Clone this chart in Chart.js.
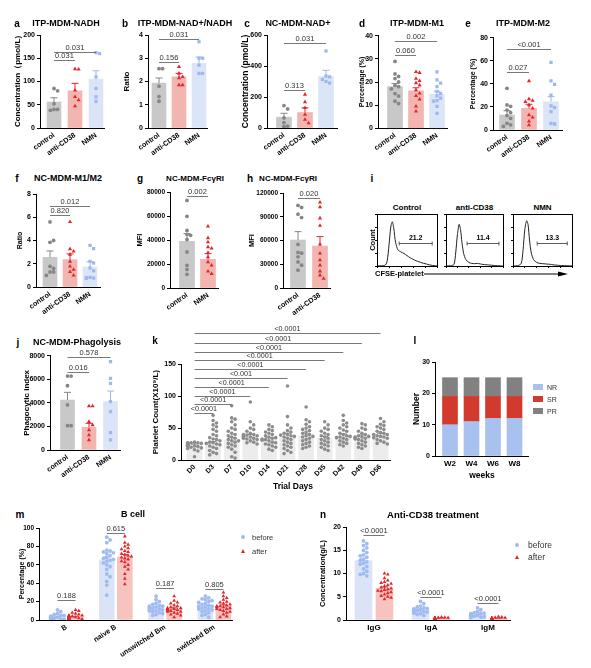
<!DOCTYPE html>
<html>
<head>
<meta charset="utf-8">
<title>Figure</title>
<script src="https://cdn.jsdelivr.net/npm/chart.js@4.4.1/dist/chart.umd.min.js"></script>
<style>
  body { margin: 0; width: 591px; height: 668px; position: relative; overflow: hidden; background: #fff; font-family: "Liberation Sans", Arial, sans-serif; color: #000; }
  canvas { position: absolute; }
  .lbl { position: absolute; transform: translate(-50%, -50%); white-space: nowrap; font-weight: bold; }
  .leg { position: absolute; transform: translate(0, -50%); white-space: nowrap; color: #333; }
</style>
</head>
<body>
<script>
const CATS3 = ["control", "anti-CD38", "NMN"];

// a  ITP-MDM-NADH
const nadhMean = [56, 80, 105];
const nadhSem = [9, 16, 18];
const nadhPts = [[85, 80, 52, 40, 40, 38], [127, 126, 81, 67, 60, 47], [162, 160, 110, 85, 67, 57]];

// b  ITP-MDM-NAD+/NADH
const ratioMean = [1.93, 2.2, 2.78];
const ratioSem = [0.22, 0.15, 0.27];
const ratioPts = [[2.55, 2.55, 1.8, 1.35, 1.15], [2.63, 2.35, 2.2, 2.15, 1.85, 1.85], [3.71, 3.0, 3.0, 2.7, 2.35, 2.35]];

// c  NC-MDM-NAD+
const nadMean = [70, 100, 332];
const nadSem = [25, 30, 40];
const nadPts = [[145, 123, 65, 35, 12, 10], [216, 168, 130, 86, 54, 32], [497, 335, 330, 313, 300, 290]];

// d  ITP-MDM-M1
const m1Mean = [18, 16.2, 14.7];
const m1Sem = [1.3, 1.3, 1.3];
const m1Pts = [
  [28.9, 23.5, 22.4, 21.5, 20, 18.5, 18, 17, 15, 13.9, 11.7, 10.7],
  [24.4, 24, 21.5, 20.5, 19.6, 18.6, 16.5, 15.1, 14, 12.5, 9.5, 7.3],
  [24.4, 20.9, 19.5, 18, 16, 15, 14, 13, 12, 11.7, 9.5, 6.5]
];

// e  ITP-MDM-M2
const m2Mean = [13, 18.8, 24.5];
const m2Sem = [3.8, 3.5, 4.4];
const m2Pts = [
  [36.1, 21.7, 20.5, 17.3, 15, 12.5, 10.1, 5.8, 4.5, 3.2],
  [42.5, 26.9, 25.5, 24.5, 21.7, 18.8, 13, 11, 7.5, 4.3],
  [58.7, 42.5, 39.6, 30.3, 21, 19.5, 15.9, 5.8, 5.2]
];

// f  NC-MDM-M1/M2
const m1m2Mean = [2.55, 2.35, 1.72];
const m1m2Sem = [0.55, 0.5, 0.45];
const m1m2Pts = [
  [5.6, 3.84, 4.0, 1.78, 1.6, 1.29, 1.29, 1.0],
  [5.6, 3.27, 3.07, 2.8, 2.2, 1.78, 1.5, 1.3, 1.0],
  [3.58, 3.3, 2.2, 2.06, 1.63, 1.4, 0.83, 0.77, 0.75, 0.8]
];

// g  NC-MDM-FcγRI (NMN)
const fcgCats = ["control", "NMN"];
const fcgMean = [38900, 23900];
const fcgSem = [6400, 4700];
const fcgPts = [
  [73000, 59700, 48000, 44700, 43900, 40500, 30000, 18900, 15500, 11400],
  [51400, 41700, 38300, 34200, 33000, 29400, 25800, 21700, 18900, 13900, 11900]
];

// h  NC-MDM-FcγRI (anti-CD38)
const fchCats = ["control", "anti-CD38"];
const fchMean = [60600, 53000];
const fchSem = [10600, 11900];
const fchPts = [
  [104300, 101800, 93300, 89000, 55100, 45000, 44000, 39400, 33000, 28800, 22500],
  [108100, 102200, 88200, 78900, 55100, 43700, 35200, 28800, 21200, 16100, 11900]
];

// i  CFSE-platelet histograms
const HX = [0, 0.08, 0.14, 0.17, 0.2, 0.23, 0.255, 0.28, 0.31, 0.35, 0.4, 0.45, 0.5, 0.55, 0.6, 0.65, 0.7, 0.75, 0.8, 0.85, 0.9, 1];
const histCtrl = [0, 0.005, 0.02, 0.1, 0.4, 0.75, 0.85, 0.72, 0.45, 0.31, 0.27, 0.24, 0.2, 0.16, 0.13, 0.1, 0.08, 0.06, 0.045, 0.03, 0.015, 0];
const histCd38 = [0, 0.005, 0.03, 0.25, 0.6, 0.8, 0.7, 0.45, 0.24, 0.12, 0.07, 0.05, 0.045, 0.05, 0.04, 0.03, 0.025, 0.02, 0.015, 0.01, 0.005, 0];
const histNmn = [0, 0.005, 0.05, 0.3, 0.7, 0.87, 0.8, 0.5, 0.25, 0.12, 0.07, 0.05, 0.045, 0.04, 0.035, 0.03, 0.02, 0.015, 0.01, 0.008, 0.005, 0];
const gates = [[0.37, 0.92, 0.44], [0.37, 0.93, 0.45], [0.41, 0.92, 0.45]];
const gateLabels = ["21.2", "11.4", "13.3"];
const histTitles = ["Control", "anti-CD38", "NMN"];

// j  NC-MDM-Phagolysis
const phagoMean = [4240, 1920, 4100];
const phagoSem = [650, 340, 900];
const phagoPts = [
  [6270, 6270, 5450, 3820, 2060, 2060],
  [3730, 3730, 2400, 2120, 1700, 1270, 850],
  [7490, 6080, 5650, 4100, 3250, 1470, 850]
];

// k  platelet count by trial day
const days = ["D0", "D3", "D7", "D10", "D14", "D21", "D28", "D35", "D42", "D49", "D56"];
const pltMean = [24, 26, 31, 37, 33, 38, 38, 34, 38, 37, 40];
const pltSem = [1, 3, 4, 3, 2, 4, 3, 3, 3, 2, 2];
const pltPts = [
  [28, 27, 27, 26, 26, 25, 25, 25, 24, 24, 24, 23, 23, 22, 22, 21, 20, 19, 18, 16, 14, 5, 26, 27, 23],
  [70, 62, 58, 55, 52, 48, 45, 40, 38, 35, 33, 32, 30, 28, 27, 25, 24, 22, 20, 18, 15, 12, 10, 8, 26],
  [85, 66, 64, 60, 55, 50, 48, 45, 42, 40, 36, 34, 32, 30, 28, 26, 24, 22, 20, 17, 12, 5, 3, 38, 30],
  [91, 60, 55, 50, 48, 45, 42, 40, 39, 38, 37, 36, 35, 34, 33, 32, 30, 28, 27, 25, 38, 36, 40, 34],
  [55, 52, 48, 46, 44, 42, 40, 38, 36, 35, 34, 32, 30, 28, 27, 25, 24, 22, 20, 17, 15, 33, 31],
  [116, 68, 55, 50, 46, 44, 42, 40, 38, 36, 34, 32, 30, 28, 26, 24, 22, 20, 18, 15, 12, 10, 37, 39],
  [83, 63, 60, 56, 52, 50, 48, 46, 44, 42, 40, 38, 36, 34, 32, 30, 28, 26, 24, 22, 20, 18, 37],
  [60, 55, 50, 48, 45, 42, 40, 38, 36, 34, 32, 30, 28, 26, 24, 22, 20, 17, 15],
  [70, 62, 58, 55, 52, 50, 47, 45, 42, 40, 38, 36, 34, 32, 30, 28, 26, 24, 22, 37, 35],
  [57, 55, 50, 48, 45, 42, 40, 38, 37, 36, 35, 34, 33, 32, 30, 28, 26, 24, 22, 20, 18, 36],
  [65, 60, 56, 54, 52, 50, 48, 45, 43, 42, 40, 38, 37, 36, 35, 34, 32, 30, 28, 26, 25, 40]
];
const pltSigY = [73, 87, 101, 114, 128, 142, 157, 170, 184, 199];
const pltSig = ["<0.0001", "<0.0001", "<0.0001", "<0.0001", "<0.001", "<0.0001", "<0.0001", "<0.0001", "<0.0001", "<0.0001"];

// l  response by week
const weeks = ["W2", "W4", "W6", "W8"];
const nrCount = [10, 11, 12, 12];
const srCount = [9, 8, 7, 7];
const prCount = [6, 6, 6, 6];

// m  B cell
const bCats = ["B", "naive B", "unswitched Bm", "switched Bm"];
const bBeforeMean = [3, 65.5, 13.5, 15];
const bAfterMean = [3.5, 68.5, 12, 15];
const bBeforeSem = [0.6, 3, 1.1, 1.4];
const bAfterSem = [0.6, 2.8, 1.1, 1.4];
const bBeforePts = [
  [11, 9, 7, 6, 5, 5, 4, 4, 3, 3, 3, 2, 2, 2, 2, 1.5, 1, 1, 1, 0.5, 0.5, 3, 2.5],
  [90, 87, 84, 76, 75, 74, 73, 72, 70, 68, 67, 65, 64, 62, 60, 58, 55, 50, 47, 42, 38, 27, 66],
  [26, 22, 20, 18, 17, 16, 15, 14, 14, 13, 13, 12, 12, 11, 11, 10, 10, 9, 8, 7, 6, 5, 15],
  [26, 24, 23, 22, 21, 20, 18, 17, 16, 15, 15, 14, 13, 12, 12, 11, 10, 9, 8, 6, 5, 3, 19]
];
const bAfterPts = [
  [11, 10, 8, 7, 6, 5, 5, 4, 4, 4, 3, 3, 3, 2, 2, 2, 1.5, 1, 1, 1, 0.5, 3.5, 4.5],
  [91, 84, 82, 80, 78, 77, 75, 74, 72, 71, 70, 68, 67, 66, 64, 63, 60, 58, 55, 50, 45, 39, 69],
  [26, 21, 19, 18, 16, 15, 14, 13, 13, 12, 12, 11, 11, 10, 10, 9, 9, 8, 7, 6, 5, 3, 12],
  [30, 26, 24, 22, 20, 19, 18, 17, 16, 15, 15, 14, 14, 13, 12, 12, 11, 10, 9, 8, 6, 4, 3]
];
const bSig = ["0.188", "0.615", "0.187", "0.805"];
const bSigY = [21.7, 94.6, 35, 33.2];

// n  Anti-CD38 treatment
const igCats = ["IgG", "IgA", "IgM"];
const igBeforeMean = [12.8, 2.2, 1.2];
const igAfterMean = [6.8, 0.4, 0.35];
const igBeforeSem = [0.5, 0.15, 0.1];
const igAfterSem = [0.3, 0.03, 0.03];
const igBeforePts = [
  [17, 16.4, 16, 15.5, 15, 14.5, 14, 13.8, 13.5, 13, 12.8, 12.5, 12.2, 12, 11.5, 11, 10.5, 10, 9.8, 9.5],
  [4, 3.5, 3, 2.8, 2.6, 2.5, 2.4, 2.3, 2.2, 2.1, 2, 2, 1.9, 1.8, 1.7, 1.6, 1.5, 1.4, 1.2, 1],
  [2.6, 2.2, 1.8, 1.6, 1.5, 1.4, 1.3, 1.3, 1.2, 1.2, 1.1, 1.1, 1, 1, 0.9, 0.9, 0.8, 0.7, 0.6, 0.5]
];
const igAfterPts = [
  [10, 9.8, 9, 8.5, 8.2, 8, 7.8, 7.5, 7.3, 7, 6.8, 6.6, 6.5, 6.3, 6.2, 6, 5.8, 5.5, 5.2, 5, 4.8, 4.5],
  [0.6, 0.55, 0.5, 0.5, 0.45, 0.45, 0.4, 0.4, 0.4, 0.35, 0.35, 0.3, 0.3, 0.3, 0.25, 0.25, 0.2, 0.2],
  [0.7, 0.6, 0.55, 0.5, 0.45, 0.4, 0.4, 0.35, 0.35, 0.3, 0.3, 0.3, 0.25, 0.25, 0.2, 0.2, 0.15]
];
const igSig = ["<0.0001", "<0.0001", "<0.0001"];
const igSigY = [18.2, 4.9, 3.6];

// ---------------------------------------------------------------
const FAM = "'Liberation Sans', Arial, sans-serif";
const GRAY = { bar: "#c8c8c8", pt: "#868686", shape: "circle", r: 1.9 };
const RED = { bar: "#f3b5b0", pt: "#e3262b", shape: "triangle", r: 2.4 };
const BLUE = { bar: "#dce5f8", pt: "#9cb8ef", shape: "rect", r: 2.3 };
const KGRAY = { bar: "#ececec", pt: "#8c8c8c", shape: "circle", r: 1.8 };
const BEFORE = { bar: "#dbe4f7", pt: "#9fbbf0", shape: "circle", r: 1.9 };
const AFTER = { bar: "#f6c3bf", pt: "#e0282c", shape: "triangle", r: 2.2 };

function font(size, weight) {
  return { family: FAM, size: size, weight: weight || "bold" };
}

function makeCanvas(left, top, w, h) {
  const cv = document.createElement("canvas");
  cv.width = Math.round(w);
  cv.height = Math.round(h);
  cv.style.left = left + "px";
  cv.style.top = top + "px";
  document.body.appendChild(cv);
  return cv;
}

function text(s, x, y, size, extra) {
  const d = document.createElement("div");
  d.className = "lbl";
  d.textContent = s;
  d.style.left = x + "px";
  d.style.top = y + "px";
  d.style.fontSize = size + "px";
  if (extra) Object.assign(d.style, extra);
  document.body.appendChild(d);
  return d;
}

// simple beeswarm so the dots of one column do not sit on top of each other
function swarm(vals, cx, sp, pxY, maxW, gap) {
  const placed = [];
  return vals.map(v => {
    const py = v * pxY;
    let off = 0;
    for (let k = 0; k < 40; k++) {
      const o = (k % 2 ? 1 : -1) * Math.ceil(k / 2) * gap;
      if (Math.abs(o) > maxW) break;
      off = o;
      if (placed.every(q => Math.hypot(q[0] - o, q[1] - py) >= gap)) break;
    }
    placed.push([off, py]);
    return { x: cx + off / sp, y: v };
  });
}

// error bars (mean + SEM) and significance brackets
function extras(p) {
  return {
    id: "extras",
    afterDatasetsDraw(chart) {
      const ctx = chart.ctx, xs = chart.scales.x, ys = chart.scales.y;
      ctx.save();
      chart.data.datasets.forEach((ds, di) => {
        if (!ds.errs) return;
        chart.getDatasetMeta(di).data.forEach((bar, i) => {
          const top = ys.getPixelForValue(ds.data[i].y + ds.errs[i]);
          ctx.strokeStyle = ds.errCol[i];
          ctx.lineWidth = 1;
          ctx.beginPath();
          ctx.moveTo(bar.x, bar.y);
          ctx.lineTo(bar.x, top);
          ctx.moveTo(bar.x - 3.5, top);
          ctx.lineTo(bar.x + 3.5, top);
          ctx.stroke();
        });
      });
      ctx.strokeStyle = "#555";
      ctx.fillStyle = "#333";
      ctx.lineWidth = 0.8;
      ctx.font = "normal " + (p.bf || 7.5) + "px " + FAM;
      ctx.textAlign = "center";
      ctx.textBaseline = "bottom";
      (p.brackets || []).forEach(([a, b, v, s]) => {
        const x1 = xs.getPixelForValue(a), x2 = xs.getPixelForValue(b), y = Math.round(ys.getPixelForValue(v)) + 0.5;
        ctx.beginPath();
        ctx.moveTo(x1, y);
        ctx.lineTo(x2, y);
        ctx.stroke();
        ctx.fillText(s, (x1 + x2) / 2, y - 1);
      });
      ctx.restore();
    }
  };
}

function baseOptions(p, xh, yw) {
  return {
    responsive: false,
    animation: false,
    devicePixelRatio: 1,
    events: [],
    layout: { padding: { top: p.t - p.top, right: p.right - p.r, left: 0, bottom: 0 } },
    plugins: { legend: { display: false }, tooltip: { enabled: false } },
    scales: {
      x: {
        type: "linear",
        offset: false,
        min: -(p.c0 - p.l) / p.sp,
        max: (p.r - p.c0) / p.sp,
        afterBuildTicks: s => { s.ticks = p.cats.map((c, i) => ({ value: i })); },
        afterFit: s => { s.height = xh; },
        grid: { display: false, drawTicks: false, offset: false },
        border: { color: "#000", width: 1 },
        ticks: {
          autoSkip: false, minRotation: p.rot || 0, maxRotation: p.rot || 0, padding: p.xpad || 3,
          color: "#000", font: font(p.xf || 7.2), callback: v => p.cats[Math.round(v)]
        }
      },
      y: {
        min: 0,
        max: p.yMax,
        stacked: !!p.stacked,
        afterFit: s => { s.width = yw; },
        grid: { drawOnChartArea: false, tickLength: 3, color: "#000", lineWidth: 1 },
        border: { color: "#000", width: 1 },
        ticks: { stepSize: p.yStep, padding: 2, color: "#000", font: font(p.tf || 7), callback: v => String(v) },
        title: { display: true, text: p.yTitle, color: "#000", font: font(p.ytf || 8), padding: 0 }
      }
    }
  };
}

function dotPanel(p) {
  const left = p.titleX - 5;
  const cv = makeCanvas(left, p.top, p.right - left, p.bottom - p.top);
  const pxY = (p.b - p.t) / p.yMax;
  const datasets = [];
  p.series.forEach(s => {
    datasets.push({
      type: "bar", order: 2, grouped: false, maxBarThickness: p.barW,
      barPercentage: 1, categoryPercentage: 1,
      data: s.x.map((x, i) => ({ x: x, y: s.mean[i] })),
      backgroundColor: s.col.map(c => c.bar),
      errs: s.sem, errCol: s.col.map(c => c.pt)
    });
    s.x.forEach((x, i) => {
      const c = s.col[i];
      datasets.push({
        type: "scatter", order: 1,
        data: swarm(s.pts[i], x, p.sp, pxY, p.spread || 6, p.gap || 3.6),
        pointStyle: c.shape, pointRadius: c.r, backgroundColor: c.pt, borderWidth: 0
      });
    });
  });
  new Chart(cv, {
    type: "bar",
    data: { datasets: datasets },
    options: baseOptions(p, p.bottom - p.b, p.l - left),
    plugins: [extras(p)]
  });
}

function stackPanel(p) {
  const left = p.titleX - 5;
  const cv = makeCanvas(left, p.top, p.right - left, p.bottom - p.top);
  const datasets = p.stacks.map(s => ({
    type: "bar", grouped: false, maxBarThickness: p.barW, barPercentage: 1, categoryPercentage: 1,
    data: s.vals.map((v, i) => ({ x: i, y: v })), backgroundColor: s.color
  }));
  new Chart(cv, {
    type: "bar",
    data: { datasets: datasets },
    options: baseOptions(p, p.bottom - p.b, p.l - left)
  });
}

function histPanel(box, ys, gate, label) {
  const cv = makeCanvas(box.l - 3, box.t - 1, box.r - box.l + 5, box.b - box.t + 4);
  new Chart(cv, {
    type: "line",
    data: { datasets: [{ data: HX.map((x, i) => ({ x: x, y: ys[i] })), borderColor: "#222", borderWidth: 1, pointRadius: 0, tension: 0.25, fill: false }] },
    options: {
      responsive: false, animation: false, devicePixelRatio: 1, events: [],
      layout: { padding: { top: 1, right: 2, left: 0, bottom: 0 } },
      plugins: { legend: { display: false }, tooltip: { enabled: false } },
      scales: {
        x: { type: "linear", min: 0, max: 1, afterFit: s => { s.height = 3; }, ticks: { display: false, stepSize: 0.2 },
             grid: { drawOnChartArea: false, tickLength: 2, color: "#000" }, border: { color: "#000" } },
        y: { min: 0, max: 1, afterFit: s => { s.width = 3; }, ticks: { display: false, stepSize: 0.25 },
             grid: { drawOnChartArea: false, tickLength: 2, color: "#000" }, border: { color: "#000" } }
      }
    },
    plugins: [{
      id: "gate",
      afterDatasetsDraw(chart) {
        const ctx = chart.ctx, a = chart.chartArea, xs = chart.scales.x, yy = chart.scales.y;
        ctx.save();
        ctx.strokeStyle = "#000";
        ctx.lineWidth = 1;
        ctx.strokeRect(Math.round(a.left) + 0.5, Math.round(a.top) + 0.5, Math.round(a.right - a.left), Math.round(a.bottom - a.top));
        const x1 = xs.getPixelForValue(gate[0]), x2 = xs.getPixelForValue(gate[1]);
        const y = Math.round(yy.getPixelForValue(gate[2])) + 0.5;
        ctx.strokeStyle = "#333";
        ctx.lineWidth = 0.8;
        ctx.beginPath();
        ctx.moveTo(x1, y); ctx.lineTo(x2, y);
        ctx.moveTo(x1, y - 2); ctx.lineTo(x1, y + 2);
        ctx.moveTo(x2, y - 2); ctx.lineTo(x2, y + 2);
        ctx.stroke();
        ctx.fillStyle = "#000";
        ctx.font = "bold 7px " + FAM;
        ctx.textAlign = "center";
        ctx.textBaseline = "bottom";
        ctx.fillText(label, (x1 + x2) / 2, y - 2);
        ctx.restore();
      }
    }]
  });
}

const single = (mean, sem, pts) => [{ x: [0, 1, 2].slice(0, mean.length), mean: mean, sem: sem, pts: pts, col: [GRAY, RED, BLUE].slice(0, mean.length) }];

// ---------------------------------------------------------------- row 1
dotPanel({ l: 40, t: 35, b: 128, r: 104, c0: 54, sp: 21, top: 27, bottom: 166, right: 108, titleX: 18,
  yMax: 200, yStep: 50, yTitle: "Concentration（pmol/L)", ytf: 8, rot: 35, barW: 14, cats: CATS3,
  series: single(nadhMean, nadhSem, nadhPts), brackets: [[0, 1, 147, "0.031"], [0, 2, 164, "0.031"]] });

dotPanel({ l: 148, t: 35, b: 128, r: 207, c0: 159, sp: 20, top: 27, bottom: 166, right: 211, titleX: 127,
  yMax: 4, yStep: 1, yTitle: "Ratio", ytf: 8, rot: 35, barW: 14, cats: CATS3,
  series: single(ratioMean, ratioSem, ratioPts), brackets: [[0, 1, 2.85, "0.156"], [0, 2, 3.83, "0.031"]] });

dotPanel({ l: 267, t: 35, b: 128, r: 337, c0: 284, sp: 21, top: 27, bottom: 166, right: 341, titleX: 246,
  yMax: 600, yStep: 200, yTitle: "Concentration (pmol/L)", ytf: 8.5, rot: 35, barW: 15, cats: CATS3,
  series: single(nadMean, nadSem, nadPts), brackets: [[0, 1, 248, "0.313"], [0, 2, 550, "0.031"]] });

dotPanel({ l: 378, t: 35.7, b: 128.3, r: 447, c0: 395, sp: 21, top: 27, bottom: 166, right: 451, titleX: 363,
  yMax: 40, yStep: 10, yTitle: "Percentage (%)", ytf: 7, rot: 35, barW: 15, cats: CATS3,
  series: single(m1Mean, m1Sem, m1Pts), brackets: [[0, 1, 31.6, "0.060"], [0, 2, 37.7, "0.002"]] });

dotPanel({ l: 493, t: 37.7, b: 130, r: 562, c0: 507, sp: 22, top: 29, bottom: 168, right: 566, titleX: 474,
  yMax: 80, yStep: 20, yTitle: "Percentage (%)", ytf: 7, rot: 35, barW: 15, cats: CATS3,
  series: single(m2Mean, m2Sem, m2Pts), brackets: [[0, 1, 50.6, "0.027"], [0, 2, 70.2, "<0.001"]] });

// ---------------------------------------------------------------- row 2
dotPanel({ l: 36, t: 194, b: 287, r: 100, c0: 50, sp: 20, top: 186, bottom: 326, right: 104, titleX: 21,
  yMax: 8, yStep: 2, yTitle: "Ratio", ytf: 7, rot: 35, barW: 14, cats: CATS3,
  series: single(m1m2Mean, m1m2Sem, m1m2Pts), brackets: [[0, 1, 6.22, "0.820"], [0, 2, 7.0, "0.012"]] });

dotPanel({ l: 170, t: 192, b: 288, r: 218, c0: 187, sp: 21, top: 184, bottom: 326, right: 222, titleX: 140,
  yMax: 80000, yStep: 20000, yTitle: "MFI", ytf: 7.5, tf: 6.5, rot: 35, barW: 15, cats: fcgCats,
  series: single(fcgMean, fcgSem, fcgPts), brackets: [[0, 1, 76700, "0.002"]] });

dotPanel({ l: 283, t: 193, b: 288, r: 330, c0: 298, sp: 22, top: 185, bottom: 326, right: 334, titleX: 252,
  yMax: 120000, yStep: 30000, yTitle: "MFI", ytf: 7.5, tf: 6.5, rot: 35, barW: 15, cats: fchCats,
  series: single(fchMean, fchSem, fchPts), brackets: [[0, 1, 113600, "0.020"]] });

const boxes = [{ l: 377, t: 214, r: 437, b: 266 }, { l: 446, t: 214, r: 503, b: 266 }, { l: 513, t: 214, r: 572, b: 266 }];
[histCtrl, histCd38, histNmn].forEach((h, i) => histPanel(boxes[i], h, gates[i], gateLabels[i]));

// ---------------------------------------------------------------- row 3
dotPanel({ l: 50, t: 355.7, b: 450, r: 120, c0: 67.5, sp: 21.5, top: 347, bottom: 490, right: 124, titleX: 27,
  yMax: 8000, yStep: 2000, yTitle: "Phagocytic index", ytf: 8, rot: 35, barW: 14, cats: CATS3,
  series: single(phagoMean, phagoSem, phagoPts), brackets: [[0, 1, 6640, "0.016"], [0, 2, 7910, "0.578"]] });

dotPanel({ l: 181, t: 364.3, b: 460, r: 390, c0: 194.5, sp: 18.6, top: 322, bottom: 482, right: 394, titleX: 156,
  yMax: 150, yStep: 50, yTitle: "Platelet Count(X10⁹/L)", ytf: 8, rot: 45, xf: 7, barW: 15, cats: days,
  spread: 7, gap: 3.4, bf: 7.2,
  series: [{ x: days.map((d, i) => i), mean: pltMean, sem: pltSem, pts: pltPts, col: days.map(() => KGRAY) }],
  brackets: pltSig.map((s, i) => [0, i + 1, pltSigY[i], s]) });
text("Trial Days", 293, 486, 8.5);

stackPanel({ l: 435, t: 362, b: 456, r: 528, c0: 450, sp: 21.5, top: 354, bottom: 470, right: 532, titleX: 417,
  yMax: 30, yStep: 10, yTitle: "Number", ytf: 8.5, rot: 0, xf: 8, barW: 15, cats: weeks, stacked: true,
  stacks: [{ vals: nrCount, color: "#a9c1ef" }, { vals: srCount, color: "#d33a2e" }, { vals: prCount, color: "#818181" }] });
text("weeks", 482, 475, 8.5);

// ---------------------------------------------------------------- row 4
const mOff = 0.183, nOff = 0.184;
dotPanel({ l: 39, t: 528, b: 620, r: 232, c0: 66.5, sp: 49.3, top: 520, bottom: 668, right: 236, titleX: 23,
  yMax: 100, yStep: 20, yTitle: "Percentage (%)", ytf: 7, tf: 6.5, rot: 33, barW: 15, cats: bCats, spread: 7, gap: 3.3,
  series: [
    { x: bCats.map((c, i) => i - mOff), mean: bBeforeMean, sem: bBeforeSem, pts: bBeforePts, col: bCats.map(() => BEFORE) },
    { x: bCats.map((c, i) => i + mOff), mean: bAfterMean, sem: bAfterSem, pts: bAfterPts, col: bCats.map(() => AFTER) }
  ],
  brackets: bSig.map((s, i) => [i - mOff, i + mOff, bSigY[i], s]) });

dotPanel({ l: 346, t: 527, b: 620, r: 510, c0: 374, sp: 57, top: 519, bottom: 640, right: 514, titleX: 323,
  yMax: 20, yStep: 5, yTitle: "Concentration(g/L)", ytf: 7.5, rot: 0, xf: 8, barW: 17, cats: igCats, spread: 8, gap: 3.3,
  series: [
    { x: igCats.map((c, i) => i - nOff), mean: igBeforeMean, sem: igBeforeSem, pts: igBeforePts, col: igCats.map(() => BEFORE) },
    { x: igCats.map((c, i) => i + nOff), mean: igAfterMean, sem: igAfterSem, pts: igAfterPts, col: igCats.map(() => AFTER) }
  ],
  brackets: igSig.map((s, i) => [i - nOff, i + nOff, igSigY[i], s]) });

// ---------------------------------------------------------------- text
[["a", 17, 23], ["b", 125, 23], ["c", 247, 23], ["d", 362, 23], ["e", 468, 23],
 ["f", 17, 178], ["g", 140, 178], ["h", 250, 178], ["i", 372, 178],
 ["j", 18, 342], ["k", 155, 340], ["l", 415, 340], ["m", 20, 514], ["n", 323, 514]]
  .forEach(([s, x, y]) => text(s, x, y, 10));

[["ITP-MDM-NADH", 66, 23], ["ITP-MDM-NAD+/NADH", 185, 23], ["NC-MDM-NAD+", 298, 23],
 ["ITP-MDM-M1", 417, 23], ["ITP-MDM-M2", 523, 23], ["NC-MDM-M1/M2", 68, 178],
 ["NC-MDM-Phagolysis", 77, 342], ["B cell", 133, 514]].forEach(([s, x, y]) => text(s, x, y, 9));
text("NC-MDM-FcγRI", 195, 178, 8);
text("NC-MDM-FcγRI", 288, 178, 8);
text("Anti-CD38 treatment", 433, 514, 9.5);

histTitles.forEach((s, i) => text(s, (boxes[i].l + boxes[i].r) / 2, 207, 8));
text("Count", 372, 240, 7.5, { transform: "translate(-50%, -50%) rotate(-90deg)" });
text("CFSE-platelet", 375, 273, 7.5, { transform: "translate(0, -50%)" });

const svg = document.createElementNS("http://www.w3.org/2000/svg", "svg");
svg.setAttribute("width", "591");
svg.setAttribute("height", "668");
svg.style.position = "absolute";
svg.style.left = "0";
svg.style.top = "0";
svg.innerHTML = '<line x1="424" y1="274" x2="560" y2="274" stroke="#000" stroke-width="1"/>' +
  '<polygon points="558,271.5 568,274 558,276.5" fill="#000"/>';
document.body.appendChild(svg);

// legends
function legend(items, tx, size) {
  items.forEach(it => {
    const m = document.createElement("div");
    m.style.position = "absolute";
    Object.assign(m.style, it.mark);
    document.body.appendChild(m);
    const d = document.createElement("div");
    d.className = "leg";
    d.textContent = it.label;
    d.style.left = tx + "px";
    d.style.top = it.y + "px";
    d.style.fontSize = size + "px";
    document.body.appendChild(d);
  });
}
const swatch = (c, y) => ({ left: "533px", top: (y - 3) + "px", width: "10px", height: "6px", background: c });
legend([{ label: "NR", y: 387, mark: swatch("#a9c1ef", 387) }, { label: "SR", y: 399, mark: swatch("#d33a2e", 399) },
        { label: "PR", y: 411, mark: swatch("#818181", 411) }], 547, 7);

const dot = (x, y) => ({ left: (x - 2) + "px", top: (y - 2) + "px", width: "4px", height: "4px", borderRadius: "50%", background: BEFORE.pt });
const tri = (x, y) => ({ left: (x - 2.5) + "px", top: (y - 2.5) + "px", width: "0", height: "0",
  borderLeft: "2.5px solid transparent", borderRight: "2.5px solid transparent", borderBottom: "4.5px solid " + AFTER.pt });
legend([{ label: "before", y: 537, mark: dot(243, 537) }, { label: "after", y: 551, mark: tri(243, 551) }], 252, 7.5);
legend([{ label: "before", y: 545, mark: dot(517, 545) }, { label: "after", y: 557, mark: tri(517, 557) }], 528, 8.5);
</script>
</body>
</html>
